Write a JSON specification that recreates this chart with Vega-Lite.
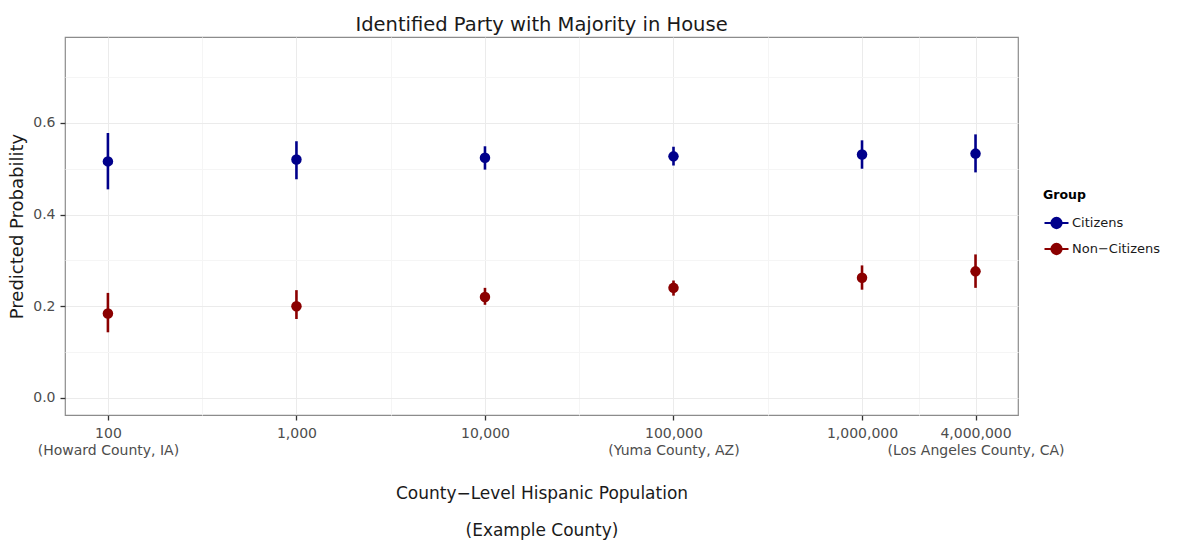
{
  "$schema": "https://vega.github.io/schema/vega-lite/v6.json",
  "autosize": {"type": "none"},
  "padding": {"left": 65, "top": 37, "right": 159, "bottom": 127},
  "width": 953,
  "height": 378,
  "background": "white",
  "config": {
    "font": "DejaVu Sans",
    "view": {"stroke": "#8c8c8c", "strokeWidth": 1.2}
  },
  "title": {"text": "Identified Party with Majority in House", "fontSize": 19.5, "fontWeight": "normal", "font": "DejaVu Sans", "color": "#1a1a1a", "offset": 2, "anchor": "middle"},
  "data": {"values": [
    {"pop": 100, "group": "Citizens", "est": 0.516, "lo": 0.455, "hi": 0.578},
    {"pop": 1000, "group": "Citizens", "est": 0.520, "lo": 0.477, "hi": 0.560},
    {"pop": 10000, "group": "Citizens", "est": 0.524, "lo": 0.498, "hi": 0.549},
    {"pop": 100000, "group": "Citizens", "est": 0.527, "lo": 0.507, "hi": 0.548},
    {"pop": 1000000, "group": "Citizens", "est": 0.531, "lo": 0.500, "hi": 0.562},
    {"pop": 4000000, "group": "Citizens", "est": 0.533, "lo": 0.492, "hi": 0.575},
    {"pop": 100, "group": "Non-Citizens", "est": 0.184, "lo": 0.143, "hi": 0.229},
    {"pop": 1000, "group": "Non-Citizens", "est": 0.200, "lo": 0.172, "hi": 0.235},
    {"pop": 10000, "group": "Non-Citizens", "est": 0.220, "lo": 0.203, "hi": 0.240},
    {"pop": 100000, "group": "Non-Citizens", "est": 0.240, "lo": 0.223, "hi": 0.256},
    {"pop": 1000000, "group": "Non-Citizens", "est": 0.262, "lo": 0.236, "hi": 0.289},
    {"pop": 4000000, "group": "Non-Citizens", "est": 0.276, "lo": 0.240, "hi": 0.313}
  ]},
  "encoding": {
    "x": {
      "field": "pop", "type": "quantitative",
      "scale": {"type": "log", "domain": [59.2, 6720000], "nice": false, "zero": false},
      "axis": {
        "title": ["County−Level Hispanic Population", "(Example County)"],
        "titleFontSize": 17, "titleFontWeight": "normal", "titleColor": "#1a1a1a", "titleLineHeight": 37, "titlePadding": 28,
        "values": [100, 316.23, 1000, 3162.3, 10000, 31623, 100000, 316228, 1000000, 2000000, 4000000],
        "labelExpr": "datum.value==100?['100','(Howard County, IA)']:datum.value==1000?'1,000':datum.value==10000?'10,000':datum.value==100000?['100,000','(Yuma County, AZ)']:datum.value==1000000?'1,000,000':datum.value==4000000?['4,000,000','(Los Angeles County, CA)']:''",
        "labelOverlap": false, "labelBound": false, "labelFlush": false,
        "labelFontSize": 14, "labelColor": "#4d4d4d", "labelLineHeight": 17, "labelPadding": 6,
        "domain": false,
        "tickSize": 5, "tickColor": "#333333", "tickWidth": 1.3,
        "tickOpacity": {"condition": {"test": "indexof([100,1000,10000,100000,1000000,4000000], datum.value) < 0", "value": 0}, "value": 1},
        "grid": true,
        "gridColor": {"condition": {"test": "indexof([100,1000,10000,100000,1000000,4000000], datum.value) < 0", "value": "#f5f5f5"}, "value": "#ebebeb"},
        "gridWidth": 1
      }
    },
    "color": {
      "field": "group", "type": "nominal",
      "scale": {"domain": ["Citizens", "Non-Citizens"], "range": ["#00008b", "#8b0000"]},
      "legend": {
        "orient": "none", "legendX": 978, "legendY": 152,
        "title": "Group", "titleFontSize": 12.5, "titleFontWeight": "bold", "titleColor": "#000000", "titlePadding": 8,
        "labelFontSize": 13, "labelColor": "#1a1a1a", "labelOffset": 2,
        "labelExpr": "replace(datum.label, '-', '−')",
        "symbolType": "M-1,0H1M-0.42,0A0.42,0.42,0,1,1,0.42,0A0.42,0.42,0,1,1,-0.42,0Z",
        "symbolSize": 576, "symbolStrokeWidth": 2.2, "symbolOpacity": 1,
        "rowPadding": 3,
        "encode": {"symbols": {"update": {"stroke": {"scale": "color", "field": "value"}, "fill": {"scale": "color", "field": "value"}}}}
      }
    }
  },
  "layer": [
    {
      "mark": {"type": "rule", "strokeWidth": 2.6},
      "encoding": {
        "y": {
          "field": "lo", "type": "quantitative",
          "scale": {"domain": [-0.0375, 0.7875], "nice": false, "zero": false},
          "axis": {
            "title": "Predicted Probability", "titleFontSize": 18, "titleFontWeight": "normal", "titleColor": "#1a1a1a", "titlePadding": 6,
            "values": [0, 0.1, 0.2, 0.3, 0.4, 0.5, 0.6, 0.7],
            "labelExpr": "round(datum.value*10)%2==0 ? format(datum.value, '.1f') : ''",
            "labelFontSize": 14, "labelColor": "#4d4d4d", "labelPadding": 5,
            "domain": false,
            "tickSize": 5, "tickColor": "#333333", "tickWidth": 1.3,
            "tickOpacity": {"condition": {"test": "round(datum.value*10)%2==1", "value": 0}, "value": 1},
            "grid": true,
            "gridColor": {"condition": {"test": "round(datum.value*10)%2==1", "value": "#f5f5f5"}, "value": "#ebebeb"},
            "gridWidth": 1
          }
        },
        "y2": {"field": "hi"}
      }
    },
    {
      "mark": {"type": "point", "filled": true, "opacity": 1, "size": 110, "shape": "circle"},
      "encoding": {
        "y": {"field": "est", "type": "quantitative"}
      }
    }
  ]
}
